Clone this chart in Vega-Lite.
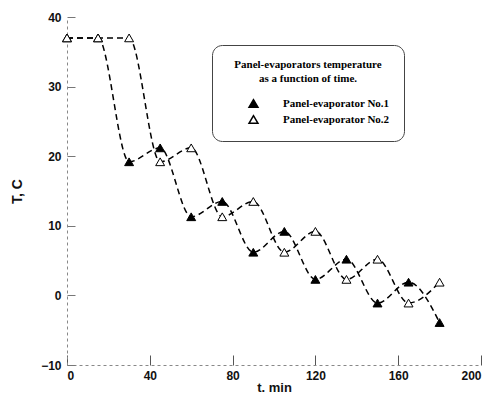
{
  "$schema": "https://vega.github.io/schema/vega-lite/v6.json",
  "autosize": {"type": "none"},
  "width": 414,
  "height": 348,
  "padding": {"left": 67, "top": 17, "right": 10, "bottom": 30},
  "background": "white",
  "config": {"view": {"stroke": null}},
  "data": {"values": [
    {"t": 0, "T": 37, "s": "Panel-evaporator No.1"},
    {"t": 15, "T": 37, "s": "Panel-evaporator No.1"},
    {"t": 30, "T": 19.2, "s": "Panel-evaporator No.1"},
    {"t": 45, "T": 21.2, "s": "Panel-evaporator No.1"},
    {"t": 60, "T": 11.3, "s": "Panel-evaporator No.1"},
    {"t": 75, "T": 13.5, "s": "Panel-evaporator No.1"},
    {"t": 90, "T": 6.2, "s": "Panel-evaporator No.1"},
    {"t": 105, "T": 9.2, "s": "Panel-evaporator No.1"},
    {"t": 120, "T": 2.3, "s": "Panel-evaporator No.1"},
    {"t": 135, "T": 5.2, "s": "Panel-evaporator No.1"},
    {"t": 150, "T": -1.1, "s": "Panel-evaporator No.1"},
    {"t": 165, "T": 1.9, "s": "Panel-evaporator No.1"},
    {"t": 180, "T": -3.9, "s": "Panel-evaporator No.1"},
    {"t": 0, "T": 37, "s": "Panel-evaporator No.2"},
    {"t": 15, "T": 37, "s": "Panel-evaporator No.2"},
    {"t": 30, "T": 37, "s": "Panel-evaporator No.2"},
    {"t": 45, "T": 19.2, "s": "Panel-evaporator No.2"},
    {"t": 60, "T": 21.2, "s": "Panel-evaporator No.2"},
    {"t": 75, "T": 11.3, "s": "Panel-evaporator No.2"},
    {"t": 90, "T": 13.5, "s": "Panel-evaporator No.2"},
    {"t": 105, "T": 6.2, "s": "Panel-evaporator No.2"},
    {"t": 120, "T": 9.2, "s": "Panel-evaporator No.2"},
    {"t": 135, "T": 2.3, "s": "Panel-evaporator No.2"},
    {"t": 150, "T": 5.2, "s": "Panel-evaporator No.2"},
    {"t": 165, "T": -1.1, "s": "Panel-evaporator No.2"},
    {"t": 180, "T": 1.9, "s": "Panel-evaporator No.2"}
  ]},
  "encoding": {
    "x": {"field": "t", "type": "quantitative",
      "scale": {"domain": [0, 200], "nice": false},
      "axis": {"title": "t. min", "values": [0, 40, 80, 120, 160, 200], "grid": false,
        "domainColor": "#888", "domainDash": [3, 3], "domainWidth": 1,
        "tickColor": "#555", "tickSize": -10, "tickWidth": 1,
        "labelFont": "Liberation Sans", "labelFontWeight": "bold", "labelFontSize": 12, "labelColor": "#111",
        "labelPadding": 15,
        "titleFont": "Liberation Sans", "titleFontWeight": "bold", "titleFontSize": 13, "titleColor": "#111",
        "titlePadding": 0}},
    "y": {"field": "T", "type": "quantitative",
      "scale": {"domain": [-10, 40], "nice": false},
      "axis": {"title": "T, C", "values": [-10, 0, 10, 20, 30, 40], "grid": false,
        "domainColor": "#888", "domainDash": [3, 3], "domainWidth": 1,
        "tickColor": "#777", "tickSize": -8, "tickWidth": 1,
        "labelFont": "Liberation Sans", "labelFontWeight": "bold", "labelFontSize": 12, "labelColor": "#111",
        "labelPadding": 14,
        "titleFont": "Liberation Sans", "titleFontWeight": "bold", "titleFontSize": 14, "titleColor": "#111",
        "titlePadding": 16}}
  },
  "layer": [
    {
      "mark": {"type": "line", "interpolate": "monotone", "strokeDash": [6, 4], "strokeWidth": 1.5, "color": "black"},
      "encoding": {"detail": {"field": "s"}}
    },
    {
      "mark": {"type": "point", "shape": "triangle-up", "size": 80, "stroke": "black", "strokeWidth": 1, "opacity": 1, "filled": false},
      "encoding": {
        "fill": {"field": "s", "type": "nominal",
          "scale": {"range": ["black", "white"]},
          "legend": {
            "title": ["Panel-evaporators temperature", "as a function of time."],
            "orient": "none", "legendX": 145, "legendY": 28,
            "titleFont": "Liberation Serif", "titleFontWeight": "bold", "titleFontSize": 11,
            "titleAlign": "center", "titleAnchor": "middle", "titleLineHeight": 14, "titlePadding": 14,
            "labelFont": "Liberation Serif", "labelFontWeight": "bold", "labelFontSize": 11,
            "labelOffset": 24, "rowPadding": 1,
            "symbolType": "triangle-up", "symbolStrokeColor": "black", "symbolSize": 80, "symbolOffset": 22,
            "strokeColor": "#444", "cornerRadius": 10, "padding": 14, "fillColor": "white"
          }
        }
      }
    }
  ]
}
